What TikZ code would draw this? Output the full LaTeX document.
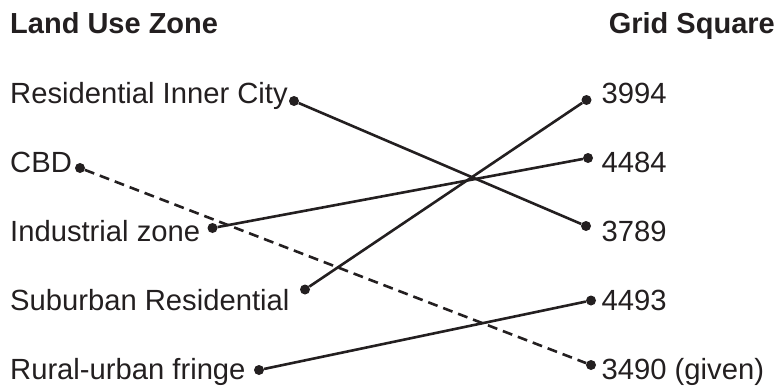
\documentclass[tikz,border=0pt]{standalone}
\usepackage{fontspec}
\setmainfont{Liberation Sans}
\definecolor{ink}{HTML}{231F20}
\begin{document}
\begin{tikzpicture}[x=1pt,y=-1pt,
  lbl/.style={anchor=base west,inner sep=0pt,text=ink,font=\fontsize{29.2}{34}\selectfont},
  head/.style={lbl,font=\fontsize{29}{34}\selectfont\bfseries},
  dot/.style={circle,fill=ink,inner sep=0pt,minimum size=10pt},
  link/.style={draw=ink,line width=2.6pt},
  dlink/.style={link,dash pattern=on 10pt off 6pt}]
\useasboundingbox (0,0) rectangle (778,388);
\node[head] (h1) at (10,33) {Land Use Zone};
\node[head,anchor=base east] (h2) at (775,33) {Grid Square};
\node[lbl] (l1) at (10,103) {Residential Inner City};
\node[lbl] (l2) at (10,172.5) {CBD};
\node[lbl] (l3) at (10,241) {Industrial zone};
\node[lbl] (l4) at (10,310) {Suburban Residential};
\node[lbl] (l5) at (10,379) {Rural-urban fringe};
\node[lbl] (r1) at (601.5,103) {3994};
\node[lbl] (r2) at (601.5,172.5) {4484};
\node[lbl] (r3) at (601.5,241) {3789};
\node[lbl] (r4) at (601.5,310) {4493};
\node[lbl] (r5) at (601.5,379) {3490 (given)};
\node[dot] (a1) at (294,101) {};
\node[dot] (a2) at (80,168) {};
\node[dot] (a3) at (212.5,228) {};
\node[dot] (a4) at (305,289.5) {};
\node[dot] (a5) at (259,370) {};
\node[dot] (b1) at (586.5,100) {};
\node[dot] (b2) at (588,158) {};
\node[dot] (b3) at (586,226) {};
\node[dot] (b4) at (591,300.5) {};
\node[dot] (b5) at (591,365) {};
\draw[link] (a1) -- (b3);
\draw[dlink] (a2) -- (b5);
\draw[link] (a3) -- (b2);
\draw[link] (a4) -- (b1);
\draw[link] (a5) -- (b4);
\end{tikzpicture}
\end{document}
